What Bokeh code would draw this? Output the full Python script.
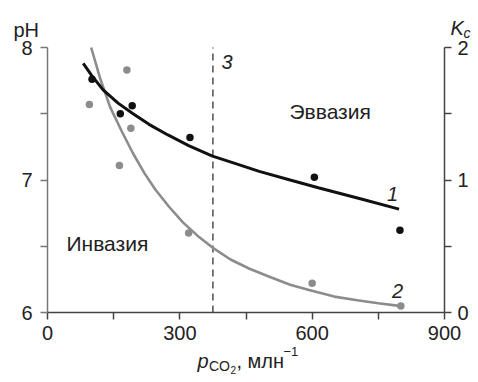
from bokeh.plotting import figure
from bokeh.models import Range1d, LinearAxis, FixedTicker, Label
from bokeh.embed import file_html
from bokeh.resources import INLINE

# ---- data ----
# measured pH (black points, left axis)
ph_x = [101, 165, 192, 323, 605, 799]
ph_y = [7.76, 7.50, 7.56, 7.32, 7.02, 6.62]
# measured Kc (grey points, right axis)
kc_x = [95, 163, 180, 189, 320, 600, 801]
kc_y = [1.57, 1.11, 1.83, 1.39, 0.60, 0.22, 0.05]
# curve 1 (pH fit)
c1_x = [81, 100, 126, 160, 194, 230, 273, 320, 374, 430, 480, 550, 616, 707, 797]
c1_y = [7.88, 7.79, 7.68, 7.58, 7.50, 7.42, 7.34, 7.26, 7.18, 7.12, 7.065, 7.00, 6.94, 6.86, 6.78]
# curve 2 (Kc fit)
c2_x = [99, 120, 142, 168, 194, 220, 244, 275, 307, 340, 374, 415, 458, 503, 550, 593, 650, 706, 750, 797]
c2_y = [2.00, 1.76, 1.55, 1.37, 1.20, 1.05, 0.93, 0.80, 0.68, 0.58, 0.49, 0.40, 0.33, 0.27, 0.21, 0.17, 0.12, 0.09, 0.07, 0.05]
# line 3 (current CO2 level)
line3_x = 375

x_lim = (0, 900)
ph_lim = (6, 8)
kc_lim = (0, 2)
x_ticks = [0, 300, 600, 900]
x_minor = [150, 450, 750]
ph_ticks = [6, 7, 8]
ph_minor = [6.5, 7.5]
kc_ticks = [0, 1, 2]
kc_minor = [0.5, 1.5]

FONT = "Liberation Sans"
FS = "20px"
W, H = 478, 382
# data area inside the canvas (pixels)
FL, FR, FT, FB = 47, 444, 47, 312

sx = (x_lim[1] - x_lim[0]) / (FR - FL)      # data units per pixel, x
sy = (ph_lim[1] - ph_lim[0]) / (FB - FT)    # data units per pixel, y (pH)
sk = (kc_lim[1] - kc_lim[0]) / (FB - FT)    # data units per pixel, y (Kc)

# the frame covers the whole canvas so that outer texts are not clipped;
# axes are pinned to the data-area edges with fixed_location
p = figure(width=W, height=H,
           x_range=Range1d(x_lim[0] - FL * sx, x_lim[1] + (W - FR) * sx),
           y_range=Range1d(ph_lim[0] - (H - FB) * sy, ph_lim[1] + FT * sy),
           x_axis_type=None, y_axis_type=None,
           output_backend="svg", toolbar_location=None,
           min_border=0, min_border_left=0, min_border_right=0,
           min_border_top=0, min_border_bottom=0)
p.extra_y_ranges = {"k": Range1d(kc_lim[0] - (H - FB) * sk, kc_lim[1] + FT * sk)}
p.outline_line_color = None
p.background_fill_color = "white"
p.border_fill_color = "white"

xax = LinearAxis(fixed_location=ph_lim[0], bounds=x_lim)
lax = LinearAxis(fixed_location=x_lim[0], bounds=ph_lim)
rax = LinearAxis(fixed_location=x_lim[1], bounds=kc_lim, y_range_name="k")
p.add_layout(xax, "below")
p.add_layout(lax, "left")
p.add_layout(rax, "right")

def style(ax, ticks, minor, color, standoff):
    ax.ticker = FixedTicker(ticks=ticks, minor_ticks=minor)
    ax.axis_line_color = color
    ax.axis_line_width = 1.5
    ax.major_tick_line_color = color
    ax.minor_tick_line_color = color
    ax.major_tick_line_width = 1.5
    ax.minor_tick_line_width = 1.5
    ax.major_tick_in = 0
    ax.major_tick_out = 7
    ax.minor_tick_in = 0
    ax.minor_tick_out = 7
    ax.major_label_text_font = FONT
    ax.major_label_text_font_size = FS
    ax.major_label_text_color = "#222222"
    ax.major_label_standoff = standoff

style(xax, x_ticks, x_minor, "#444444", 6)
style(lax, ph_ticks, ph_minor, "#777777", 8)
style(rax, kc_ticks, kc_minor, "#444444", 6)

# dashed line 3
p.line([line3_x, line3_x], list(ph_lim), line_color="#333333", line_width=1.3, line_dash="7 5")

# curves
p.line(c2_x, c2_y, y_range_name="k", line_color="#8c8c8c", line_width=2.6)
p.line(c1_x, c1_y, line_color="#111111", line_width=3)

# points
p.scatter(kc_x, kc_y, y_range_name="k", size=7.5, fill_color="#8c8c8c", line_color=None)
p.scatter(ph_x, ph_y, size=7.5, fill_color="#111111", line_color=None)

def px(xp):
    return x_lim[0] + (xp - FL) * sx

def py(yp):
    return ph_lim[0] + (FB - yp) * sy

def lab(xp, yp, text, size=FS, style="normal", baseline="alphabetic", align="left"):
    p.add_layout(Label(x=px(xp), y=py(yp), text=text, text_font=FONT, text_font_size=size,
                       text_font_style=style, text_baseline=baseline, text_align=align,
                       text_color="#222222"))

lab(221, 61, "3", style="italic")
lab(289, 111, "Эввазия", size="21px", baseline="middle")
lab(66, 243, "Инвазия", size="21px", baseline="middle")
lab(392, 193, "1", style="italic", baseline="middle", align="center")
lab(397, 290, "2", style="italic", baseline="middle", align="center")

# axis titles
lab(13, 29, "pH")
lab(450, 27, "K", style="italic")
lab(463, 32, "c", size="14px", style="italic")

lab(197, 360, "p", style="italic")
lab(208.5, 365, "CO", size="14px")
lab(230, 369, "2", size="10px")
lab(236, 360, ", млн")
lab(283, 351, "−1", size="13px")

open("out.html", "w").write(file_html(p, INLINE))
